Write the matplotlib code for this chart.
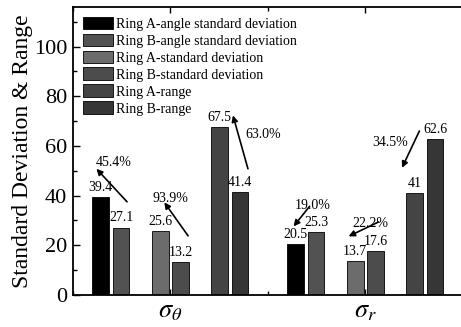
import numpy as np
import matplotlib
matplotlib.use('Agg')
import matplotlib.pyplot as plt
from matplotlib.ticker import MultipleLocator

plt.rcParams['font.family'] = ['Liberation Serif', 'DejaVu Serif']
plt.rcParams['mathtext.fontset'] = 'stix'

groups = [r'$\sigma_\theta$', r'$\sigma_r$']
series = ['Ring A-angle standard deviation', 'Ring B-angle standard deviation',
          'Ring A-standard deviation', 'Ring B-standard deviation',
          'Ring A-range', 'Ring B-range']
values_theta = [39.4, 27.1, 25.6, 13.2, 67.5, 41.4]
values_r = [20.5, 25.3, 13.7, 17.6, 41, 62.6]
value_text_r = ['20.5', '25.3', '13.7', '17.6', '41', '62.6']

# percent change arrows: (text, text_xy, arrow tail, arrow head)
pct_labels = ['45.4%', '93.9%', '63.0%', '19.0%', '22.2%', '34.5%']
pct_text_xy = [(0.709, 53.2), (1.0, 38.9), (1.478, 64.6),
               (1.732, 36.2), (2.026, 28.7), (2.128, 61.5)]
arrow_tail = [(0.778, 37.5), (1.091, 23.8), (1.398, 50.8),
              (1.714, 35.7), (2.068, 29.4), (2.277, 66.0)]
arrow_head = [(0.621, 50.8), (0.969, 37.3), (1.321, 72.3),
              (1.632, 27.6), (1.914, 23.6), (2.188, 51.2)]

colors = ['#000000', '#525252', '#6c6c6c', '#4c4c4c', '#444444', '#363636']
offsets = [-0.357, -0.253, -0.052, 0.052, 0.253, 0.357]
width = 0.086

fig = plt.figure(figsize=(4.61, 3.27), dpi=100)
ax = fig.add_axes([0.158, 0.098, 0.846, 0.881])

x = np.array([1, 2])
for i in range(6):
    vals = [values_theta[i], values_r[i]]
    bars = ax.bar(x + offsets[i], vals, width, color=colors[i],
                  edgecolor='black', linewidth=0.6, label=series[i])
    labels = ['%.1f' % values_theta[i], value_text_r[i]]
    for b, t in zip(bars, labels):
        ax.text(b.get_x() + b.get_width() / 2, b.get_height() + 1.3, t,
                ha='center', va='bottom', fontsize=10)

for t, txy, tail, head in zip(pct_labels, pct_text_xy, arrow_tail, arrow_head):
    ax.annotate('', xy=head, xytext=tail,
                arrowprops=dict(arrowstyle='-|>', color='black', lw=1.2,
                                mutation_scale=9, shrinkA=0, shrinkB=0))
    ax.text(txy[0], txy[1], t, ha='center', va='center', fontsize=10)

ax.set_xlim(0.5, 2.5)
ax.set_ylim(0, 116)
ax.set_xticks(x)
ax.set_xticklabels(groups, fontsize=19)
ax.xaxis.set_minor_locator(MultipleLocator(0.5))
ax.yaxis.set_major_locator(MultipleLocator(20))
ax.yaxis.set_minor_locator(MultipleLocator(10))
ax.tick_params(axis='both', which='both', direction='in', top=True, right=False)
ax.tick_params(axis='y', which='major', length=5, width=1, labelsize=16, pad=4)
ax.tick_params(axis='y', which='minor', length=3, width=1)
ax.tick_params(axis='x', which='major', length=4, width=1, pad=4)
ax.tick_params(axis='x', which='minor', length=3, width=1)
for s in ax.spines.values():
    s.set_linewidth(1.3)
ax.spines['right'].set_visible(False)

ax.set_ylabel('Standard Deviation & Range', fontsize=17, labelpad=1)

ax.legend(loc='upper left', frameon=False, fontsize=10,
          handlelength=2.2, handleheight=1.05, labelspacing=0.2,
          handletextpad=0.2, borderaxespad=0.5, borderpad=0.2)

fig.savefig('out.png', dpi=100)
